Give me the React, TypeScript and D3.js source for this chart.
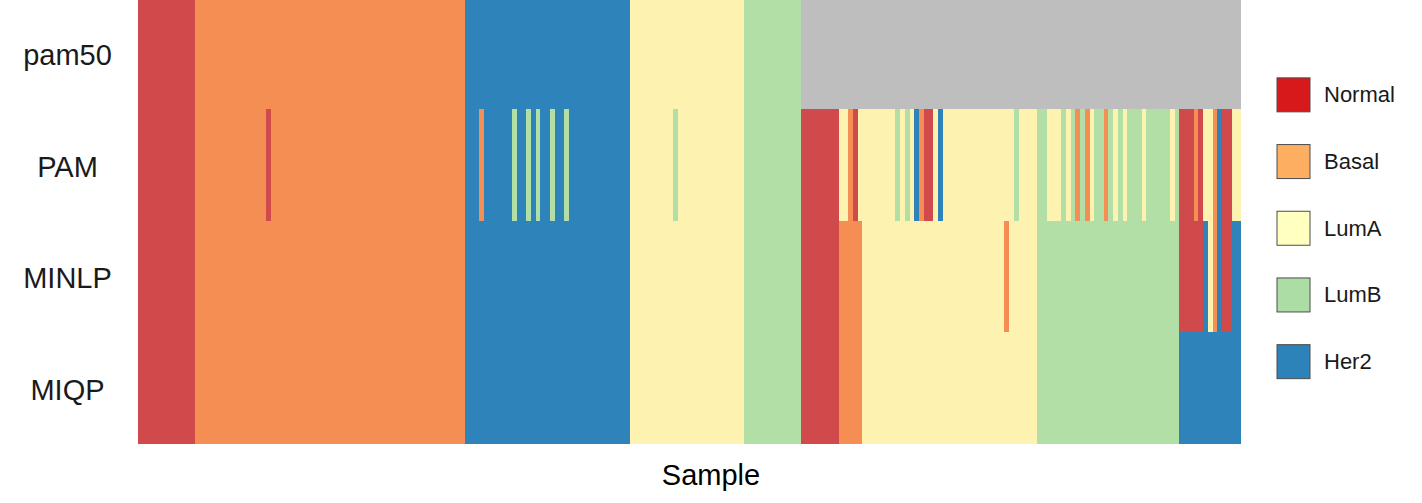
import React from 'react';
import * as d3 from 'd3';

const rowNames = ['pam50', 'PAM', 'MINLP', 'MIQP'];
const classes = ['Normal', 'Basal', 'LumA', 'LumB', 'Her2'];
const heatColors = ['#D04A4C', '#F48E52', '#FEF2B1', '#B2DFA5', '#2E83BA'];
const legendColors = ['#D7191C', '#FDAE61', '#FFFFBF', '#ABDDA4', '#2B83BA'];
const naColor = '#BEBEBE';
const xTitle = 'Sample';

type Run = [string, number];

const pam50Runs: Run[] = [
  ['Normal', 12], ['Basal', 57], ['Her2', 35], ['LumA', 24], ['LumB', 12], ['NA', 93],
];

const pamRuns: Run[] = [
  ['Normal', 12],
  ['Basal', 15], ['Normal', 1], ['Basal', 41],
  ['Her2', 3], ['Basal', 1], ['Her2', 6], ['LumB', 1], ['Her2', 2], ['LumB', 1], ['Her2', 1],
  ['LumB', 1], ['Her2', 2], ['LumB', 1], ['Her2', 2], ['LumB', 1], ['Her2', 13],
  ['LumA', 9], ['LumB', 1], ['LumA', 14],
  ['LumB', 12],
  ['Normal', 8], ['LumA', 2], ['Basal', 1], ['Normal', 1], ['LumA', 8], ['LumB', 1], ['LumA', 1],
  ['LumB', 1], ['LumA', 1], ['Her2', 1], ['Basal', 1], ['Normal', 2], ['LumA', 1], ['Her2', 1],
  ['LumA', 15], ['LumB', 1],
  ['LumA', 4], ['LumB', 2], ['LumA', 3], ['LumB', 1], ['LumA', 1], ['LumB', 1], ['Basal', 1],
  ['LumB', 1], ['Basal', 1], ['LumA', 1], ['LumB', 2], ['Basal', 1], ['LumB', 1], ['LumA', 1],
  ['LumB', 1], ['LumA', 1], ['LumB', 3], ['LumA', 1], ['LumB', 5], ['LumA', 1], ['LumB', 1],
  ['Normal', 3], ['Basal', 1], ['Normal', 1], ['LumA', 2], ['Basal', 1], ['Her2', 1], ['Normal', 2], ['LumA', 2],
];

const minlpRuns: Run[] = [
  ['Normal', 12], ['Basal', 57], ['Her2', 35], ['LumA', 24], ['LumB', 12],
  ['Normal', 8], ['Basal', 5], ['LumA', 30], ['Basal', 1], ['LumA', 6], ['LumB', 30],
  ['Normal', 5], ['Her2', 1], ['LumA', 1], ['Basal', 1], ['Her2', 1], ['Normal', 2], ['Her2', 2],
];

const miqpRuns: Run[] = [
  ['Normal', 12], ['Basal', 57], ['Her2', 35], ['LumA', 24], ['LumB', 12],
  ['Normal', 8], ['Basal', 5], ['LumA', 37], ['LumB', 30], ['Her2', 13],
];

const expand = (runs: Run[]) => runs.flatMap(([lab, n]) => Array.from({ length: n }, () => lab));

const rowsData = [pam50Runs, pamRuns, minlpRuns, miqpRuns].map(expand);

export default function App() {
  const nSamples = rowsData[0].length;
  const x = d3.scaleBand<number>().domain(d3.range(nSamples)).range([138, 1241]).padding(0);
  const y = d3.scaleBand<string>().domain(rowNames).range([-3, 444]).padding(0);
  const color = d3.scaleOrdinal<string, string>().domain(classes).range(heatColors).unknown(naColor);
  const legendY = d3.scaleBand<string>().domain(classes).range([61.5, 395]).padding(0);
  const font = '"Liberation Sans", Arial, Helvetica, sans-serif';
  const bw = x.bandwidth();

  const cells: JSX.Element[] = [];
  rowsData.forEach((row, ri) => {
    row.forEach((lab, i) => {
      const x0 = x(i)!;
      const x1 = i === nSamples - 1 ? 1241 : x(i + 1)!;
      cells.push(
        <rect
          key={`${ri}-${i}`}
          x={x0}
          y={y(rowNames[ri])!}
          width={x1 - x0}
          height={y.bandwidth()}
          fill={lab === 'NA' ? naColor : color(lab)}
          shapeRendering="crispEdges"
        />
      );
    });
  });

  return (
    <svg
      width={1422}
      height={503}
      style={{ position: 'absolute', left: 0, top: 0, background: '#fff' }}
      fontFamily={font}
    >
      <g>{cells}</g>
      {rowNames.map((r) => (
        <text
          key={r}
          x={67.5}
          y={y(r)! + y.bandwidth() / 2 + 2}
          textAnchor="middle"
          dominantBaseline="central"
          fontSize={29}
          fill="#1a1a1a"
        >
          {r}
        </text>
      ))}
      <text x={711} y={475} textAnchor="middle" dominantBaseline="central" fontSize={29} fill="#000">
        {xTitle}
      </text>
      {classes.map((c, i) => {
        const cy = legendY(c)! + legendY.bandwidth() / 2;
        return (
          <g key={c}>
            <rect x={1277} y={cy - 17} width={33} height={34} fill={legendColors[i]} stroke="#4d4d4d" strokeWidth={1} />
            <text x={1324} y={cy} dominantBaseline="central" fontSize={22} fill="#1a1a1a">
              {c}
            </text>
          </g>
        );
      })}
    </svg>
  );
}
